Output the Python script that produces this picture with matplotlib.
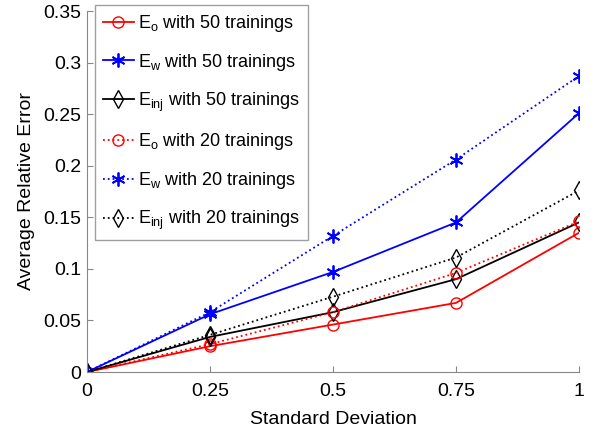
import numpy as np
import matplotlib
matplotlib.use("Agg")
import matplotlib.pyplot as plt

plt.rcParams['font.family'] = ['Liberation Sans', 'DejaVu Sans']
plt.rcParams['mathtext.fontset'] = 'custom'
plt.rcParams['mathtext.rm'] = 'Liberation Sans'
plt.rcParams['mathtext.it'] = 'Liberation Sans'

std_dev = [0, 0.25, 0.5, 0.75, 1]

eo_50 = [0, 0.025, 0.046, 0.067, 0.135]
ew_50 = [0, 0.056, 0.097, 0.145, 0.251]
einj_50 = [0, 0.034, 0.058, 0.090, 0.145]
eo_20 = [0, 0.027, 0.058, 0.096, 0.146]
ew_20 = [0, 0.058, 0.132, 0.206, 0.287]
einj_20 = [0, 0.036, 0.073, 0.111, 0.176]

labels = [r"$\mathrm{E_o}$ with 50 trainings",
          r"$\mathrm{E_w}$ with 50 trainings",
          r"$\mathrm{E_{inj}}$ with 50 trainings",
          r"$\mathrm{E_o}$ with 20 trainings",
          r"$\mathrm{E_w}$ with 20 trainings",
          r"$\mathrm{E_{inj}}$ with 20 trainings"]

fig = plt.figure(figsize=(5.95, 4.36), dpi=100)
ax = fig.add_axes([87 / 595, 1 - 372 / 436, 492 / 595, 361 / 436])

lw = 1.3
star = (6, 2, 0)
ax.plot(std_dev, eo_50, "-o", color="red", mfc="none", ms=8, lw=lw, label=labels[0])
ax.plot(std_dev, ew_50, "-", marker=star, color="blue", ms=10, mew=1.3, lw=lw, label=labels[1])
ax.plot(std_dev, einj_50, "-d", color="black", mfc="none", ms=9, lw=lw, label=labels[2])
ax.plot(std_dev, eo_20, ":o", color="red", mfc="none", ms=8, lw=lw, label=labels[3])
ax.plot(std_dev, ew_20, ":", marker=star, color="blue", ms=10, mew=1.3, lw=lw, label=labels[4])
ax.plot(std_dev, einj_20, ":d", color="black", mfc="none", ms=9, lw=lw, label=labels[5])

ax.set_xlim(0, 1)
ax.set_ylim(0, 0.35)
ax.set_xticks([0, 0.25, 0.5, 0.75, 1])
ax.set_xticklabels(["0", "0.25", "0.5", "0.75", "1"])
ax.set_yticks(np.arange(0, 0.351, 0.05))
ax.set_yticklabels(["0", "0.05", "0.1", "0.15", "0.2", "0.25", "0.3", "0.35"])
ax.tick_params(direction="in", labelsize=14, color="#888888", length=4)
ax.tick_params(axis="x", pad=8)
ax.tick_params(axis="y", pad=4)
ax.spines["top"].set_visible(False)
ax.spines["right"].set_visible(False)
ax.spines["left"].set_color("#888888")
ax.spines["bottom"].set_color("#888888")

ax.set_xlabel("Standard Deviation", fontsize=14, labelpad=8)
ax.set_ylabel("Average Relative Error", fontsize=14, labelpad=6)

leg = ax.legend(loc="upper left", bbox_to_anchor=(0.016, 1.017), fontsize=13,
                fancybox=False, edgecolor="#888888", handlelength=1.7,
                handletextpad=0.25, borderaxespad=0.0, labelspacing=0.98,
                borderpad=0.45)
leg.get_frame().set_linewidth(1.0)

fig.savefig("out.png", dpi=100)
